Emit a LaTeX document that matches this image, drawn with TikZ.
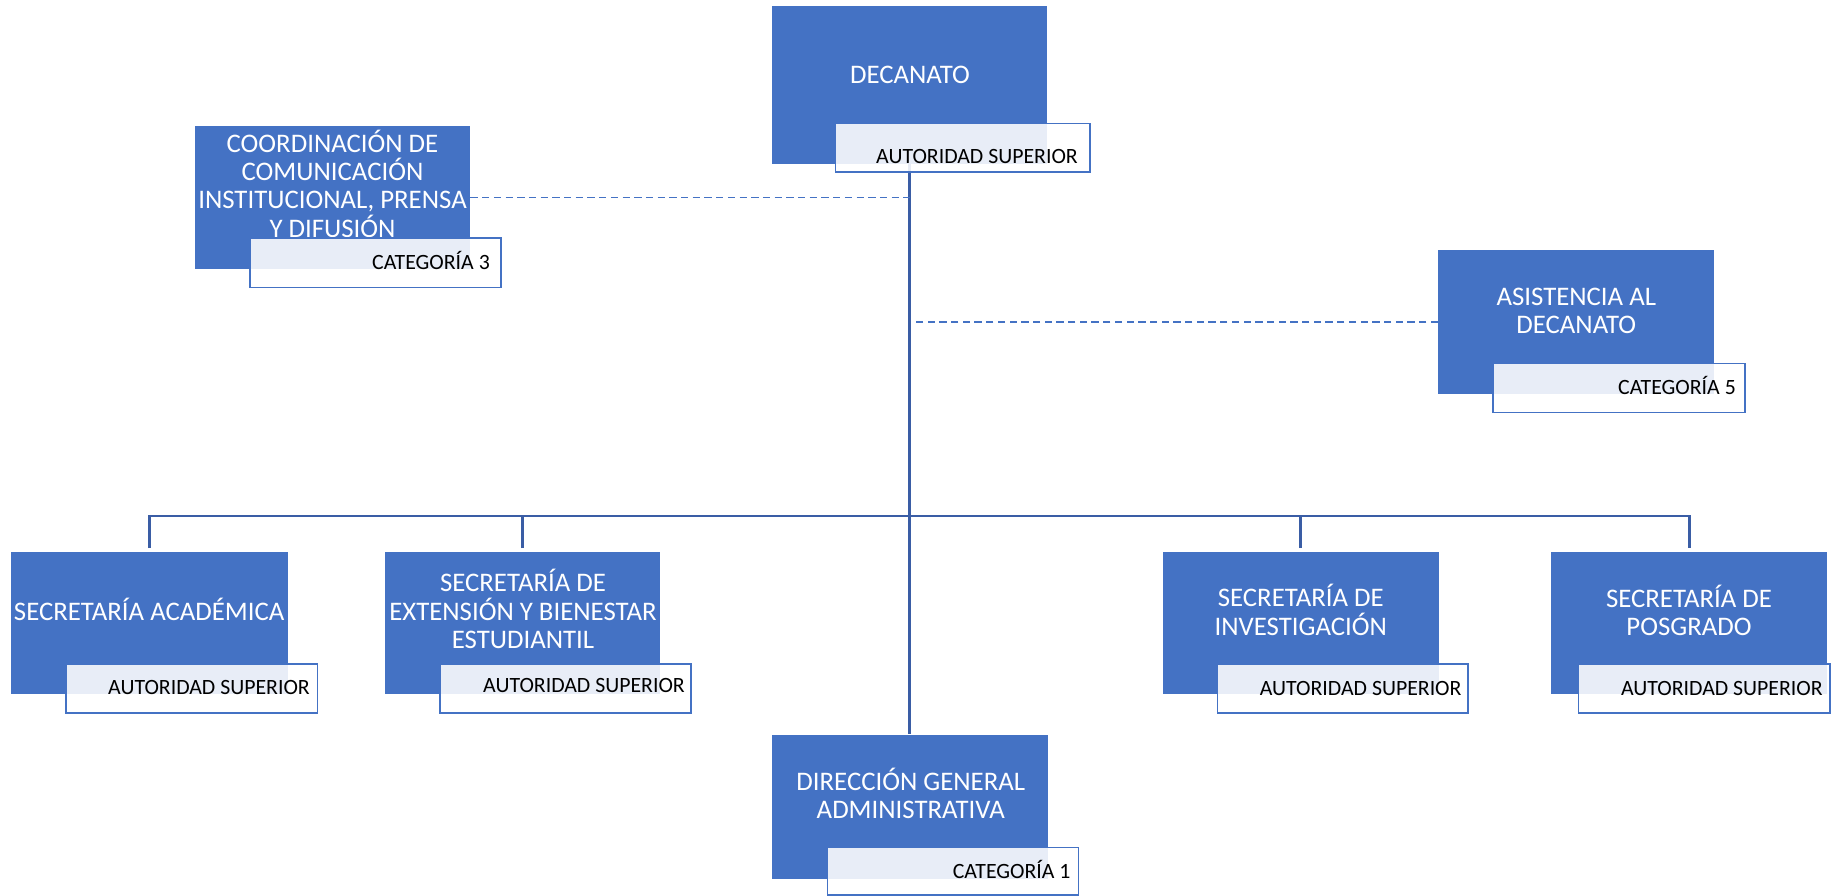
\documentclass[tikz,border=0pt]{standalone}
\usepackage{fontspec}
\setmainfont{Carlito}
\definecolor{boxblue}{HTML}{4472C4}
\definecolor{lineblue}{HTML}{3A5DA5}
\newcommand\mylines[1]{\vtop{\tabskip=0pt\halign{\hfil##\hfil\cr#1\crcr}}}
\tikzset{
 unitbox/.style={rectangle, fill=boxblue, draw=none, inner sep=0pt, anchor=north west},
 labelbox/.style={rectangle, fill=white, fill opacity=0.88, draw=boxblue, line width=1.6pt, inner sep=0pt, anchor=north west},
 maintext/.style={text=white, inner sep=0pt, anchor=base, font=\fontsize{26.8}{28.3}\selectfont},
 labeltext/.style={text=black, inner sep=0pt, anchor=base east, font=\fontsize{21.8}{26}\selectfont},
 conn/.style={draw=lineblue, line width=2.7pt},
 dashconn/.style={draw=boxblue, line width=1.7pt, dash pattern=on 7.3pt off 4.4pt},
}
\begin{document}
\begin{tikzpicture}[x=1pt,y=-1pt]
\useasboundingbox (0,0) rectangle (1845,895);
% blue boxes
\node[unitbox, minimum width=275.3pt, minimum height=158pt] (dec) at (771.7,6) {};
\node[unitbox, minimum width=275pt, minimum height=143.3pt] (coord) at (195,125.7) {};
\node[unitbox, minimum width=276pt, minimum height=144pt] (asis) at (1438,250) {};
\node[unitbox, minimum width=276.3pt, minimum height=142.3pt] (acad) at (11,551.7) {};
\node[unitbox, minimum width=275pt, minimum height=142.3pt] (ext) at (385,551.7) {};
\node[unitbox, minimum width=275.6pt, minimum height=142.3pt] (inv) at (1162.7,551.7) {};
\node[unitbox, minimum width=276pt, minimum height=142.3pt] (pos) at (1551.2,551.7) {};
\node[unitbox, minimum width=275.7pt, minimum height=144pt] (dir) at (772,734.3) {};
% connectors
\coordinate (bus) at (909.35,516);
\draw[conn] (dec.south) -- (dec.south |- dir.north);
\draw[conn, shorten <=3.5pt] (acad.north) |- (bus) -| ([yshift=3.5pt]pos.north);
\draw[conn, shorten <=3.5pt] (ext.north) -- (ext.north |- bus);
\draw[conn, shorten <=3.5pt] (inv.north) -- (inv.north |- bus);
\draw[dashconn] (coord.east) -- (coord.east -| dec.south);
\draw[dashconn] (asis.west) -- ([xshift=4pt]asis.west -| dec.south);
% main texts
\node[maintext] (tdec) at (910,83.3) {DECANATO};
\node[maintext] (tcoord) at (332.5,152.3) {\mylines{COORDINACIÓN DE\cr COMUNICACIÓN\cr INSTITUCIONAL, PRENSA\cr Y DIFUSIÓN}};
\node[maintext] (tasis) at (1576.3,305) {\mylines{ASISTENCIA AL\cr DECANATO}};
\node[maintext] (tacad) at (149.2,620.7) {SECRETARÍA ACADÉMICA};
\node[maintext] (text) at (523,591.7) {\mylines{SECRETARÍA DE\cr EXTENSIÓN Y BIENESTAR\cr ESTUDIANTIL}};
\node[maintext] (tinv) at (1300.8,606.7) {\mylines{SECRETARÍA DE\cr INVESTIGACIÓN}};
\node[maintext] (tpos) at (1689,607.3) {\mylines{SECRETARÍA DE\cr POSGRADO}};
\node[maintext] (tdir) at (910.8,790) {\mylines{DIRECCIÓN GENERAL\cr ADMINISTRATIVA}};
% label boxes
\node[labelbox, minimum width=254.3pt, minimum height=48.6pt] (decl) at (834.7,122.7) {};
\node[labelbox, minimum width=251pt, minimum height=49.4pt] (coordl) at (249,237.3) {};
\node[labelbox, minimum width=252pt, minimum height=49pt] (asisl) at (1492,362.7) {};
\node[labelbox, minimum width=251.7pt, minimum height=48.7pt] (acadl) at (65,663.3) {};
\node[labelbox, minimum width=251pt, minimum height=48.7pt] (extl) at (439,663.3) {};
\node[labelbox, minimum width=250.6pt, minimum height=48.7pt] (invl) at (1216.7,663.3) {};
\node[labelbox, minimum width=251.4pt, minimum height=48.7pt] (posl) at (1577.7,663.3) {};
\node[labelbox, minimum width=251pt, minimum height=47.6pt] (dirl) at (826.7,846.7) {};
% label texts
\node[labeltext] (ldec) at (1078,163.3) {AUTORIDAD SUPERIOR};
\node[labeltext] (lcoord) at (490,269.3) {CATEGORÍA 3};
\node[labeltext] (lasis) at (1736,394) {CATEGORÍA 5};
\node[labeltext] (lacad) at (310,694.3) {AUTORIDAD SUPERIOR};
\node[labeltext] (lext) at (685,692.7) {AUTORIDAD SUPERIOR};
\node[labeltext] (linv) at (1461.7,695) {AUTORIDAD SUPERIOR};
\node[labeltext] (lpos) at (1822.9,695) {AUTORIDAD SUPERIOR};
\node[labeltext] (ldir) at (1070.7,878.3) {CATEGORÍA 1};
\end{tikzpicture}
\end{document}
